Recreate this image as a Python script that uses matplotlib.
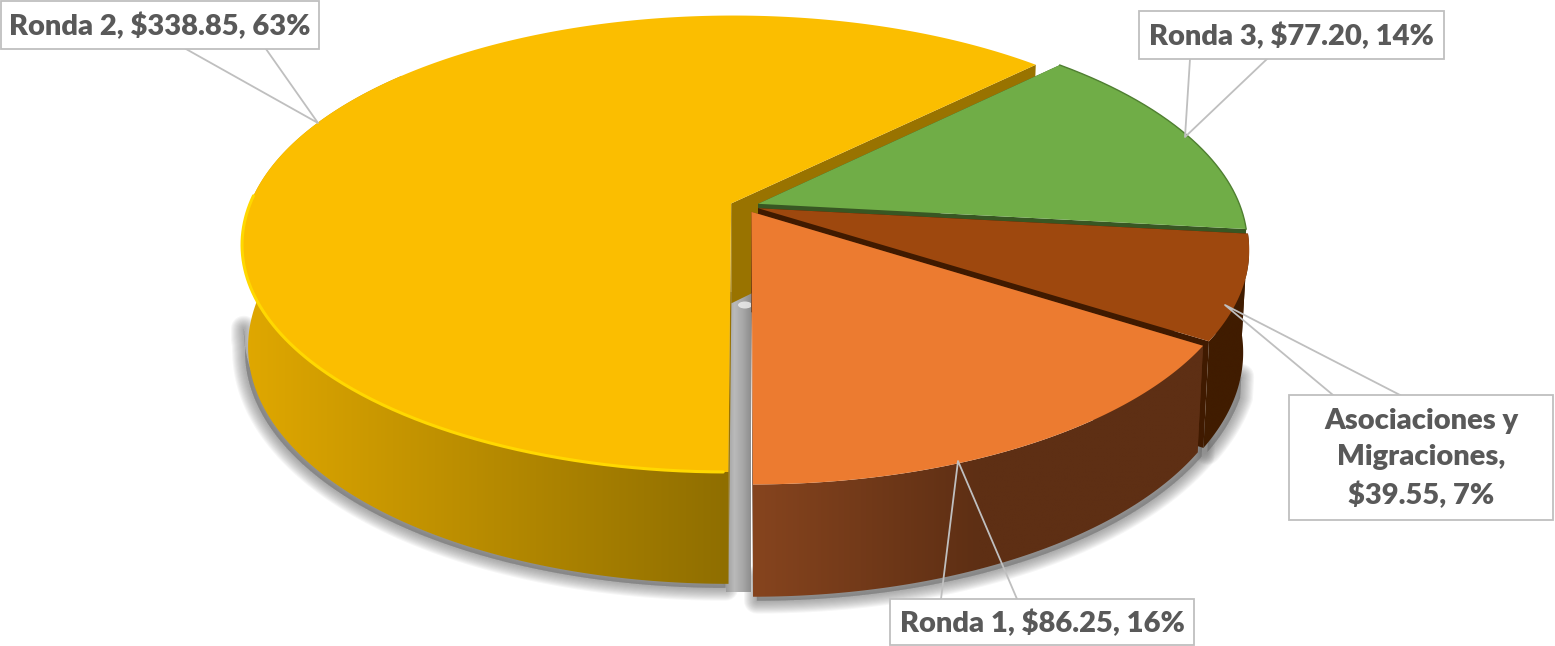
from __future__ import annotations

import matplotlib

matplotlib.use("Agg")
import matplotlib.pyplot as plt
import numpy as np
from matplotlib.colors import LinearSegmentedColormap
from matplotlib.patches import Ellipse, Polygon, Rectangle

# clockwise from the bottom of the pie, same order as the slices in the chart
CATEGORIES = ["Ronda 2", "Ronda 3", "Asociaciones y\nMigraciones", "Ronda 1"]
VALUES = [338.85, 77.20, 39.55, 86.25]

TOP_COLORS = ["#FBBE00", "#70AD47", "#9E480E", "#EC7B30"]
FACE_COLORS = ["#997300", "#385723", "#401A00", "#5E2F14"]
WALL_COLORS = [
    ["#E0A800", "#8F6E00"],
    ["#385723", "#385723"],
    ["#401C00", "#401C00"],
    ["#86441E", "#5E2F14", "#5E2F14"],
]

# label boxes in pixels: x0, y0, x1, y1
LABEL_BOXES = [(1, 1, 319, 49), (1139, 11, 1444, 59), (1289, 395, 1553, 520), (890, 599, 1194, 645)]
# callout wedge: two points on the box edge and the tip on the pie
CALLOUTS = [
    ((186, 49), (266, 49), (318, 123)),
    ((1190, 59), (1267, 59), (1185, 137)),
    ((1333, 395), (1400, 395), (1225, 305)),
    ((941, 599), (1017, 599), (958, 461)),
]

CX, CY = 744.5, 206.0
RX, RY = 482.0, 222.0
PERSPECTIVE = 0.177
EXPLODE = 0.03
TEXT_COLOR = "#595959"
LINE_COLOR = "#BFBFBF"


def project(px, py, z=0.0):
    px, py = np.asarray(px, dtype=float), np.asarray(py, dtype=float)
    w = 1 + PERSPECTIVE * py
    x = CX + RX * px / w
    y = CY - RY * py / w
    x = x - (x - CX) * 0.012 * z
    y = y + z * (100 - 12 * py)
    return x, y


def slice_angles():
    fractions = np.array(VALUES) / sum(VALUES)
    # yellow starts at the bottom and goes clockwise
    edges = 270 - 360 * np.concatenate([[0], np.cumsum(fractions)])
    return list(zip(edges[:-1], edges[1:]))


def rim(start, stop, offset, z=0.0, n=240):
    t = np.radians(np.linspace(start, stop, n))
    return project(np.cos(t) + offset[0], np.sin(t) + offset[1], z)


def fill_gradient(ax, xs, ys, colors, zorder):
    poly = Polygon(np.column_stack([xs, ys]), closed=True, fc="none", ec="none", zorder=zorder)
    ax.add_patch(poly)
    cmap = LinearSegmentedColormap.from_list("wall", colors)
    img = ax.imshow(
        np.linspace(0, 1, 256)[None, :],
        cmap=cmap,
        extent=(min(xs), max(xs), max(ys), min(ys)),
        aspect="auto",
        zorder=zorder,
        interpolation="bilinear",
    )
    img.set_clip_path(poly)


def soft_shadow(ax, start, stop, offset, dx, dy):
    # only the lower part of the wall throws a visible shadow
    xb, yb = rim(start, stop, offset, 1)
    xm, ym = rim(start, stop, offset, 0.8)
    pts = np.column_stack([np.r_[xm, xb[::-1]] + dx, np.r_[ym, yb[::-1]] + dy])
    for lw in np.arange(2, 19, 1.5):
        ax.add_patch(Polygon(pts, closed=True, fc="#6A6A6A", ec="#6A6A6A", lw=lw, alpha=0.06, zorder=1,
                             joinstyle="round"))


def draw_slice(ax, i, start, stop, base_z):
    mid = np.radians((start + stop) / 2)
    offset = (EXPLODE * np.cos(mid), EXPLODE * np.sin(mid))
    apex_top = project(offset[0], offset[1])
    apex_bot = project(offset[0], offset[1], 1)

    # the two cut faces, seen through the gap between slices
    for angle in (start, stop):
        xt, yt = rim(angle, angle, offset, 0, n=1)
        xb, yb = rim(angle, angle, offset, 1, n=1)
        pts = [apex_top, (xt[0], yt[0]), (xb[0], yb[0]), apex_bot]
        ax.add_patch(Polygon(pts, closed=True, fc=FACE_COLORS[i], ec="none", zorder=base_z))

    # outer wall, only the part that faces the viewer
    lo, hi = (140, 270) if i == 0 else (stop, start)
    if i != 1:
        xt, yt = rim(lo, hi, offset, 0)
        xb, yb = rim(lo, hi, offset, 1)
        xs = np.concatenate([xt, xb[::-1]])
        ys = np.concatenate([yt, yb[::-1]])
        fill_gradient(ax, xs, ys, WALL_COLORS[i], base_z + 0.1)

    # top surface
    xr, yr = rim(start, stop, offset, 0)
    top = np.column_stack([np.r_[apex_top[0], xr], np.r_[apex_top[1], yr]])
    ax.add_patch(Polygon(top, closed=True, fc=TOP_COLORS[i], ec="none", zorder=base_z + 0.2))


def main() -> None:
    fig = plt.figure(figsize=(15.55, 6.46), dpi=100)
    ax = fig.add_axes([0, 0, 1, 1])
    ax.set_xlim(0, 1555)
    ax.set_ylim(646, 0)
    ax.axis("off")

    angles = slice_angles()
    mids = [np.radians((a + b) / 2) for a, b in angles]
    offsets = [(EXPLODE * np.cos(m), EXPLODE * np.sin(m)) for m in mids]

    # ground shadows under the yellow and the front walls
    soft_shadow(ax, 190, 270, offsets[0], -3, 4)
    soft_shadow(ax, -20, angles[2][1], offsets[2], 4, 4)
    soft_shadow(ax, angles[3][0], -90, offsets[3], 4, 4)

    # grey gap between the yellow slice and the orange one
    fill_gradient(
        ax,
        np.array([726, 751, 751, 726]),
        np.array([292, 292, 592, 592]),
        ["#9C9C9C", "#BABABA", "#A8A8A8", "#8E8E8E"],
        1.5,
    )
    ax.add_patch(Ellipse((745, 305), 14, 7, fc="#F0F0F0", ec="none", alpha=0.8, zorder=1.6))

    z = 2.0
    for i in range(len(VALUES)):
        draw_slice(ax, i, angles[i][0], angles[i][1], z)
        z += 1

    # bevel highlight along the front of the yellow rim
    xh, yh = rim(178, 269.5, offsets[0], 0)
    ax.plot(xh, yh, color="#FFD800", lw=2.2, solid_capstyle="round", zorder=2.3)
    xh, yh = rim(angles[1][0], angles[1][1], offsets[1], 0)
    ax.plot(xh, yh, color="#4F7F31", lw=1.0, zorder=3.3)

    total = sum(VALUES)
    for name, value, box, wedge in zip(CATEGORIES, VALUES, LABEL_BOXES, CALLOUTS):
        x0, y0, x1, y1 = box
        ax.add_patch(Rectangle((x0, y0), x1 - x0, y1 - y0, fc="white", ec=LINE_COLOR, lw=1.3, zorder=8, clip_on=False))
        ax.plot(
            [wedge[0][0], wedge[2][0], wedge[1][0]],
            [wedge[0][1], wedge[2][1], wedge[1][1]],
            color=LINE_COLOR,
            lw=1.3,
            zorder=7,
        )
        pct = round(100 * value / total)
        if "\n" in name:
            label = f"{name},\n${value:.2f}, {pct}%"
        else:
            label = f"{name}, ${value:.2f}, {pct}%"
        ax.text(
            (x0 + x1) / 2,
            (y0 + y1) / 2 + 1,
            label,
            ha="center",
            va="center",
            fontsize=21,
            fontweight=800,
            family="Lato",
            color=TEXT_COLOR,
            linespacing=1.5,
            zorder=9,
        )

    fig.savefig("out.png", dpi=100)
    plt.close(fig)


if __name__ == "__main__":
    main()
